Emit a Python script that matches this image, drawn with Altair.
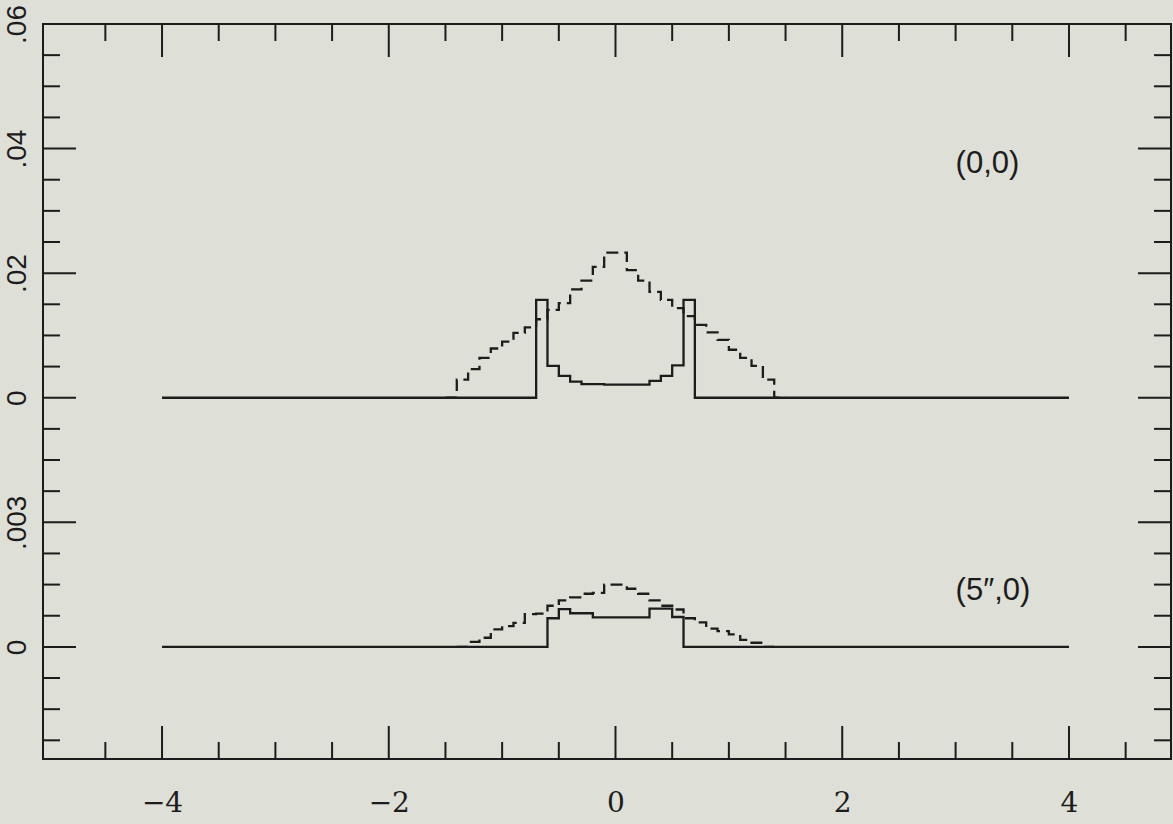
import json
import altair as alt
import pandas as pd

# ---------------- data ----------------
# upper panel (0,0): values in its own units (0 .. .06)
upper_solid_edges = [-4.0, -0.7, -0.6, -0.5, -0.4, -0.3, -0.1, 0.3, 0.4, 0.5, 0.6, 0.7, 4.0]
upper_solid_vals = [0.0, 0.0157, 0.0051, 0.0035, 0.0026, 0.0022, 0.0021, 0.0027, 0.0035, 0.0052, 0.0157, 0.0]

upper_dash_edges = [-1.5, -1.4, -1.3, -1.2, -1.1, -1.0, -0.9, -0.8, -0.7, -0.6, -0.5, -0.4, -0.3, -0.2, -0.1,
                    0.1, 0.2, 0.3, 0.4, 0.5, 0.6, 0.7, 0.8, 0.9, 1.0, 1.1, 1.2, 1.3, 1.4, 1.5]
upper_dash_vals = [0.0, 0.0029, 0.0046, 0.0064, 0.0079, 0.0090, 0.0104, 0.0113, 0.0126, 0.0141, 0.0152,
                   0.0174, 0.0188, 0.0210, 0.0233, 0.0205, 0.0188, 0.0170, 0.0157, 0.0144, 0.0131,
                   0.0117, 0.0105, 0.0093, 0.0077, 0.0064, 0.0051, 0.0029, 0.0]

# lower panel (5",0): values in its own units (0 .. .003)
lower_solid_edges = [-4.0, -0.6, -0.5, -0.4, -0.2, 0.3, 0.5, 0.6, 4.0]
lower_solid_vals = [0.0, 0.00069, 0.00091, 0.00081, 0.00071, 0.00092, 0.00072, 0.0]

lower_dash_edges = [-1.4, -1.3, -1.2, -1.1, -1.0, -0.9, -0.8, -0.7, -0.6, -0.5, -0.4, -0.3, -0.2, -0.1,
                    0.1, 0.2, 0.3, 0.4, 0.5, 0.6, 0.7, 0.8, 0.9, 1.0, 1.1, 1.2, 1.3, 1.4]
lower_dash_vals = [0.0, 0.00012, 0.00022, 0.00042, 0.00050, 0.00058, 0.00079, 0.00080, 0.00099, 0.00112,
                   0.00119, 0.00128, 0.00130, 0.00150, 0.00140, 0.00128, 0.00112, 0.00099, 0.00090,
                   0.00069, 0.00059, 0.00044, 0.00038, 0.00030, 0.00017, 0.00010, 0.0]

# panel stacking: lower panel 0 at position 0 (one major step = .003),
# upper panel 0 at position 2 (one major step = .02)
upper_offset, upper_step = 2.0, 0.02
lower_offset, lower_step = 0.0, 0.003

# axes
x_major_ticks = [-4, -2, 0, 2, 4]
x_minor_ticks = [-4.5, -3.5, -3, -2.5, -1.5, -1, -0.5, 0.5, 1, 1.5, 2.5, 3, 3.5, 4.5]
y_major_ticks = [0, 1, 2, 3, 4, 5]
y_minor_ticks = [-0.75, -0.5, -0.25, 0.25, 0.5, 0.75, 1.25, 1.5, 1.75, 2.25, 2.5, 2.75,
                 3.25, 3.5, 3.75, 4.25, 4.5, 4.75]
y_tick_labels = ["0", ".003", "0", ".02", ".04", ".06"]

# annotations
note_text = ["(0,0)", "(5\u2033,0)"]
note_x = [3.0, 3.0]
note_y = [3.88, 0.45]

# ---------------- build ----------------
INK = "#1c1c1c"
BG = "#dedfd7"
W, H = 1128, 735
MAJ, MIN = 33, 17

rows = []
def add(name, style, edges, vals, step, offset):
    for e, v in zip(edges, vals + [vals[-1]]):
        rows.append({"series": name, "style": style, "x": e, "pos": offset + v / step})

add("upper_solid", "solid", upper_solid_edges, upper_solid_vals, upper_step, upper_offset)
add("upper_dash", "dash", upper_dash_edges, upper_dash_vals, upper_step, upper_offset)
add("lower_solid", "solid", lower_solid_edges, lower_solid_vals, lower_step, lower_offset)
add("lower_dash", "dash", lower_dash_edges, lower_dash_vals, lower_step, lower_offset)
df = pd.DataFrame(rows)

xscale = alt.Scale(domain=[-5.05, 4.9], nice=False, zero=False)
yscale = alt.Scale(domain=[-0.9, 5.0], nice=False, zero=False)

xaxis = alt.Axis(values=x_major_ticks, title=None, grid=False, ticks=False, tickSize=0, domain=False,
                 labelFont="DejaVu Serif", labelFontSize=28, labelColor=INK, labelPadding=30,
                 labelExpr="replace(datum.label, '-', '\u2212')")
yaxis = alt.Axis(values=y_major_ticks, title=None, grid=False, ticks=False, tickSize=0, domain=False,
                 labelFont="Liberation Sans", labelFontSize=28, labelColor=INK, labelAngle=270,
                 labelAlign="center", labelBaseline="bottom", labelPadding=12, labelFlush=True,
                 labelExpr=json.dumps(y_tick_labels) + "[datum.value]")

X = alt.X("x:Q", scale=xscale, axis=xaxis)
Y = alt.Y("pos:Q", scale=yscale, axis=yaxis)

solid = alt.Chart(df).transform_filter("datum.style == 'solid'").mark_line(
    interpolate="step-after", color=INK, strokeWidth=2.3
).encode(x=X, y=Y, detail="series:N")

dashed = alt.Chart(df).transform_filter("datum.style == 'dash'").mark_line(
    interpolate="step-after", color=INK, strokeWidth=2.3, strokeDash=[12, 6]
).encode(x=X, y=Y, detail="series:N")

notes = alt.Chart(pd.DataFrame({"t": note_text, "x": note_x, "pos": note_y})).mark_text(
    align="left", baseline="middle", font="Liberation Sans", fontSize=31, color=INK
).encode(x=X, y=Y, text="t:N")

def xrules(vals, y0, y1):
    return alt.Chart(pd.DataFrame({"x": vals})).mark_rule(color=INK, strokeWidth=2).encode(
        x=X, y=alt.value(y0), y2=alt.value(y1))

def yrules(vals, x0, x1):
    return alt.Chart(pd.DataFrame({"pos": vals})).mark_rule(color=INK, strokeWidth=2).encode(
        y=Y, x=alt.value(x0), x2=alt.value(x1))

ticks = [
    xrules(x_major_ticks, H, H - MAJ), xrules(x_minor_ticks, H, H - MIN),
    xrules(x_major_ticks, 0, MAJ), xrules(x_minor_ticks, 0, MIN),
    yrules(y_major_ticks, 0, MAJ), yrules(y_minor_ticks, 0, MIN),
    yrules(y_major_ticks, W, W - MAJ), yrules(y_minor_ticks, W, W - MIN),
]

chart = alt.layer(*ticks, solid, dashed, notes).properties(
    width=W, height=H,
    autosize=alt.AutoSizeParams(type="none"),
    padding={"left": 43, "top": 24, "right": 2, "bottom": 65},
    background=BG,
).configure_view(stroke=INK, strokeWidth=2)

chart.save("out.html", embed_options={"renderer": "svg", "actions": False})
